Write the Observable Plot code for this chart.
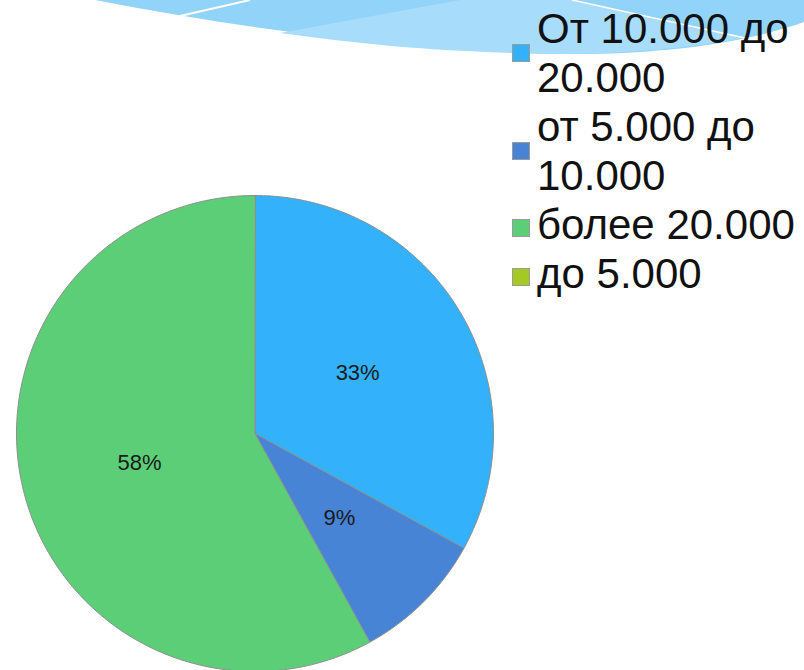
<!DOCTYPE html>
<html>
<head>
<meta charset="utf-8">
<script src="https://cdn.jsdelivr.net/npm/d3@7"></script>
<script src="https://cdn.jsdelivr.net/npm/@observablehq/plot@0.6"></script>
<style>
  html, body { margin: 0; padding: 0; background: #fff; overflow: hidden; }
  #wrap { position: relative; width: 804px; height: 670px; }
  #deco { position: absolute; left: 0; top: 0; z-index: 0; }
  #chart { position: absolute; left: 0; top: 0; z-index: 1; }
  #legend { position: absolute; left: 0; top: 0; z-index: 2; font-family: "Liberation Sans", Arial, sans-serif; color: #111; }
  .lg-line { position: absolute; left: 537px; font-size: 42px; line-height: 49px; white-space: nowrap; }
  .lg-sw { position: absolute; left: 512px; width: 18px; height: 18px; box-sizing: border-box; border: 1px solid #9a9a9a; }
</style>
</head>
<body>
<div id="wrap">
  <svg id="deco" width="804" height="70" viewBox="0 0 804 70">
    <path d="M95,0 C250,30 420,52 560,54 C650,55 740,45 804,22 L804,0 Z" fill="#92d3fa"/>
    <path d="M280,33 L460,0 L572,0 L745,38 C650,55 560,54 560,54 C420,52 350,42 280,33 Z" fill="#a7dcfa"/>
    <line x1="180" y1="16" x2="250" y2="0" stroke="#fff" stroke-width="2"/>
    <line x1="572" y1="0" x2="745" y2="38" stroke="#fff" stroke-width="1.5"/>
  </svg>
  <div id="chart"></div>
  <div id="legend"></div>
</div>
<script>
// ---- data ----
const categories = ["От 10.000 до 20.000", "от 5.000 до 10.000", "более 20.000", "до 5.000"];
const legendLines = [["От 10.000 до", "20.000"], ["от 5.000 до", "10.000"], ["более 20.000"], ["до 5.000"]];
const shares = [33, 9, 58, 0];
const percentLabels = ["33%", "9%", "58%", ""];
const colors = ["#33b2fb", "#4884d5", "#5dce78", "#a4c924"];

// ---- build slices (clockwise from 12 o'clock) ----
const total = d3.sum(shares);
const slicePts = [];
const labelRows = [];
let acc = 0;
categories.forEach((cat, i) => {
  const v = shares[i];
  if (v <= 0) return;
  const a0 = acc / total * 2 * Math.PI;
  const a1 = (acc + v) / total * 2 * Math.PI;
  acc += v;
  slicePts.push({cat, x: 0, y: 0});
  const n = Math.max(2, Math.ceil((a1 - a0) / (Math.PI / 180)));
  for (let k = 0; k <= n; k++) {
    const a = a0 + (a1 - a0) * k / n;
    slicePts.push({cat, x: Math.sin(a), y: Math.cos(a)});
  }
  const am = (a0 + a1) / 2;
  labelRows.push({cat, text: percentLabels[i], x: 0.5 * Math.sin(am), y: 0.5 * Math.cos(am)});
});

const chart = Plot.plot({
  width: 804,
  height: 670,
  margin: 0,
  style: {background: "transparent", fontFamily: "'Liberation Sans', Arial, sans-serif"},
  x: {domain: [-1, 1], range: [16, 493], axis: null},
  y: {domain: [-1, 1], range: [671, 195], axis: null},
  color: {domain: categories, range: colors},
  marks: [
    Plot.line(slicePts, {x: "x", y: "y", z: "cat", fill: "cat", stroke: "#8e8e8e", strokeWidth: 1, curve: "linear-closed"}),
    Plot.text(labelRows, {x: "x", y: "y", text: "text", fontSize: 22, fill: "#1a1a1a"})
  ]
});
document.getElementById("chart").appendChild(chart);

// ---- legend ----
const legend = document.getElementById("legend");
const lineH = 49, firstBaseline = 43, baseOff = 39;
let lineIdx = 0;
legendLines.forEach((lines, i) => {
  const baseline = firstBaseline + lineIdx * lineH;
  const sw = document.createElement("div");
  sw.className = "lg-sw";
  sw.style.background = colors[i];
  sw.style.top = (lines.length > 1 ? baseline + 1 : baseline - 20) + "px";
  legend.appendChild(sw);
  lines.forEach(t => {
    const d = document.createElement("div");
    d.className = "lg-line";
    d.textContent = t;
    d.style.top = (firstBaseline + lineIdx * lineH - baseOff) + "px";
    legend.appendChild(d);
    lineIdx++;
  });
});
</script>
</body>
</html>
